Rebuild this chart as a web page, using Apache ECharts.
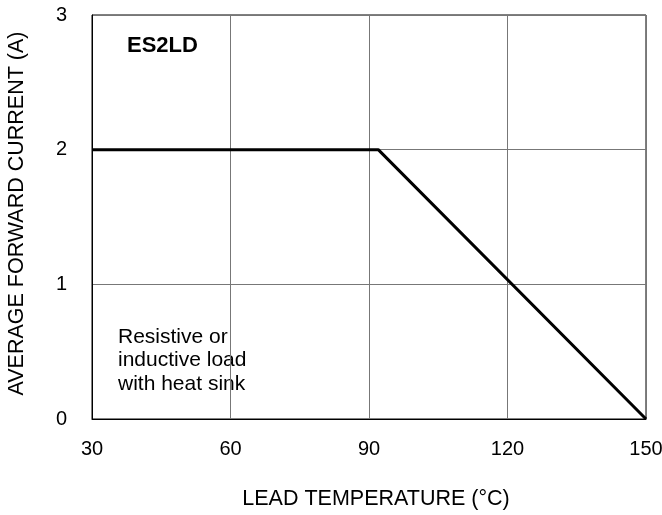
<!DOCTYPE html>
<html>
<head>
<meta charset="utf-8">
<script src="https://cdn.jsdelivr.net/npm/echarts@6/dist/echarts.min.js"></script>
<style>
  html, body { margin: 0; padding: 0; background: #fff; }
  #main { width: 662px; height: 515px; }
</style>
</head>
<body>
<div id="main"></div>
<script>
// derating curve: lead temperature (°C) vs average forward current (A)
var leadTemp = [30, 92, 150];
var fwdCurrent = [2, 2, 0];
var xTicks = [30, 60, 90, 120, 150];
var yTicks = [0, 1, 2, 3];

var chart = echarts.init(document.getElementById('main'));
var font = 'Liberation Sans, Arial, sans-serif';

var option = {
  backgroundColor: '#fff',
  animation: false,
  title: {
    text: 'ES2LD',
    left: 127, top: 35, padding: 0,
    textStyle: { fontFamily: font, fontSize: 22, fontWeight: 'bold', color: '#000' }
  },
  graphic: [{
    type: 'text',
    left: 118, top: 325,
    style: {
      text: 'Resistive or\ninductive load\nwith heat sink',
      font: '21px ' + font,
      lineHeight: 23.5,
      fill: '#000'
    }
  }],
  grid: {
    left: 92, right: 16, top: 15, bottom: 96,
    outerBoundsMode: 'none',
    show: true, borderColor: '#000', borderWidth: 1
  },
  xAxis: {
    type: 'value',
    min: xTicks[0], max: xTicks[xTicks.length - 1], interval: 30,
    name: 'LEAD TEMPERATURE (°C)',
    nameLocation: 'middle', nameGap: 69,
    nameTextStyle: { fontFamily: font, fontSize: 21.5, color: '#000', padding: [0, 0, 0, 14] },
    axisLine: { lineStyle: { color: '#000', width: 1 } },
    axisTick: { show: false },
    axisLabel: { fontFamily: font, fontSize: 20, color: '#000', margin: 20 },
    splitLine: { lineStyle: { color: '#777', width: 1 } }
  },
  yAxis: {
    type: 'value',
    min: yTicks[0], max: yTicks[yTicks.length - 1], interval: 1,
    name: 'AVERAGE FORWARD CURRENT (A)',
    nameLocation: 'middle', nameGap: 64,
    nameTextStyle: { fontFamily: font, fontSize: 21.5, color: '#000', padding: [0, 0, 0, 7] },
    axisLine: { show: true, lineStyle: { color: '#000', width: 1 } },
    axisTick: { show: false },
    axisLabel: { fontFamily: font, fontSize: 20, color: '#000', margin: 25 },
    splitLine: { lineStyle: { color: '#777', width: 1 } }
  },
  series: [{
    type: 'line',
    data: leadTemp.map(function (t, i) { return [t, fwdCurrent[i]]; }),
    symbol: 'none',
    lineStyle: { color: '#000', width: 3 }
  }]
};
chart.setOption(option);
</script>
</body>
</html>
